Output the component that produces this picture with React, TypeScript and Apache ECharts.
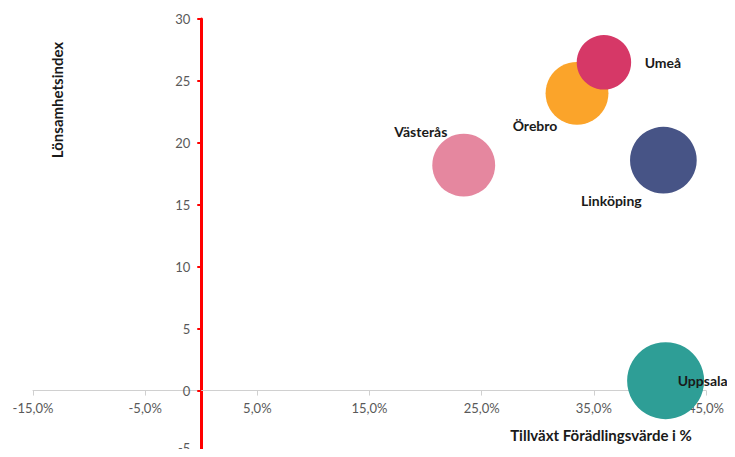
import React, { useEffect, useRef } from "react";
import * as echarts from "echarts";

const cities = ["Västerås", "Örebro", "Umeå", "Linköping", "Uppsala"];
const growth = [23.4, 33.5, 35.9, 41.2, 41.4]; // Tillväxt förädlingsvärde, %
const profitability = [18.2, 24.0, 26.5, 18.6, 0.8]; // Lönsamhetsindex
const weight = [40, 40, 30, 45, 60]; // bubble size value

const X_MIN = -15, X_MAX = 45, X_STEP = 10;
const Y_MIN = -5, Y_MAX = 30, Y_STEP = 5;

const colors = ["#E5879F", "#FBA42A", "#D63867", "#475486", "#2E9E96"];
const labelOffsets: Record<string, [number, number]> = {
  "Västerås": [-43, -34],
  "Örebro": [-42, 32],
  "Umeå": [59, 0],
  "Linköping": [-52, 40],
  "Uppsala": [37, 0],
};

const FONT = "Lato, 'Open Sans', sans-serif";
const W = 735, H = 457;
const G = { left: 33, right: 29, top: 19, bottom: 4.5 };

export default function App() {
  const ref = useRef<HTMLDivElement>(null);
  useEffect(() => {
    if (!ref.current) return;
    const chart = echarts.init(ref.current, undefined, { renderer: "svg" });
    const k = 77 / Math.sqrt(60);
    const plotW = W - G.left - G.right;
    const plotH = H - G.top - G.bottom;
    const zeroX = G.left + ((0 - X_MIN) / (X_MAX - X_MIN)) * plotW;
    const zeroY = G.top + ((Y_MAX - 0) / (Y_MAX - Y_MIN)) * plotH;
    const hiddenAxis = { show: false };
    chart.setOption({
      animation: false,
      backgroundColor: "#ffffff",
      grid: [
        { ...G, containLabel: false, outerBoundsMode: "none" },
        { left: zeroX, width: 1, top: G.top, bottom: G.bottom, containLabel: false, outerBoundsMode: "none" },
        { left: G.left, right: G.right, top: G.top, bottom: H - zeroY, containLabel: false, outerBoundsMode: "none" },
      ],
      xAxis: [
        { gridIndex: 0, type: "value", min: X_MIN, max: X_MAX, interval: X_STEP, ...hiddenAxis },
        { gridIndex: 1, type: "value", min: 0, max: 1, ...hiddenAxis },
        {
          gridIndex: 2,
          type: "value",
          min: X_MIN,
          max: X_MAX,
          interval: X_STEP,
          position: "bottom",
          splitLine: { show: false },
          axisLine: { show: true, onZero: false, lineStyle: { color: "#D0D0D0", width: 1 } },
          axisTick: { show: true, inside: false, length: 5, lineStyle: { color: "#D0D0D0" } },
          axisLabel: {
            margin: 11,
            color: "#595959",
            fontSize: 13,
            fontFamily: FONT,
            formatter: (v: number) => v.toFixed(1).replace(".", ",") + "%",
          },
        },
      ],
      yAxis: [
        { gridIndex: 0, type: "value", min: Y_MIN, max: Y_MAX, interval: Y_STEP, ...hiddenAxis },
        {
          gridIndex: 1,
          type: "value",
          min: Y_MIN,
          max: Y_MAX,
          interval: Y_STEP,
          position: "left",
          splitLine: { show: false },
          axisLine: { show: true, onZero: false, lineStyle: { color: "#FF0000", width: 3 } },
          axisTick: { show: true, length: 4, lineStyle: { color: "#FF0000", width: 2 } },
          axisLabel: {
            margin: 11,
            color: "#595959",
            fontSize: 13,
            fontFamily: FONT,
            formatter: (v: number) => (v === Y_MIN ? `{lo|${v}}` : `${v}`),
            rich: {
              lo: { color: "#595959", fontSize: 13, fontFamily: FONT, padding: [0, 0, 9, 0] },
            },
          },
        },
        { gridIndex: 2, type: "value", min: 0, max: 1, ...hiddenAxis },
      ],
      graphic: [
        {
          type: "text",
          x: 601,
          y: 435,
          style: {
            text: "Tillväxt Förädlingsvärde i %",
            font: `bold 15px ${FONT}`,
            fill: "#1a1a1a",
            align: "center",
            verticalAlign: "middle",
          },
        },
        {
          type: "text",
          x: 57,
          y: 100,
          rotation: Math.PI / 2,
          style: {
            text: "Lönsamhetsindex",
            font: `bold 15px ${FONT}`,
            fill: "#1a1a1a",
            align: "center",
            verticalAlign: "middle",
          },
        },
      ],
      series: [
        {
          type: "scatter",
          xAxisIndex: 0,
          yAxisIndex: 0,
          symbolSize: (val: number[]) => Math.sqrt(val[2]) * k,
          data: cities.map((c, i) => ({
            name: c,
            value: [growth[i], profitability[i], weight[i]],
            itemStyle: { color: colors[i], opacity: 1 },
            label: {
              show: true,
              position: "inside",
              offset: labelOffsets[c],
              formatter: c,
              color: "#1a1a1a",
              fontWeight: "bold",
              fontSize: 14,
              fontFamily: FONT,
            },
          })),
        },
      ],
    });
    return () => chart.dispose();
  }, []);
  return <div ref={ref} style={{ width: W, height: H, margin: -8 }} />;
}
